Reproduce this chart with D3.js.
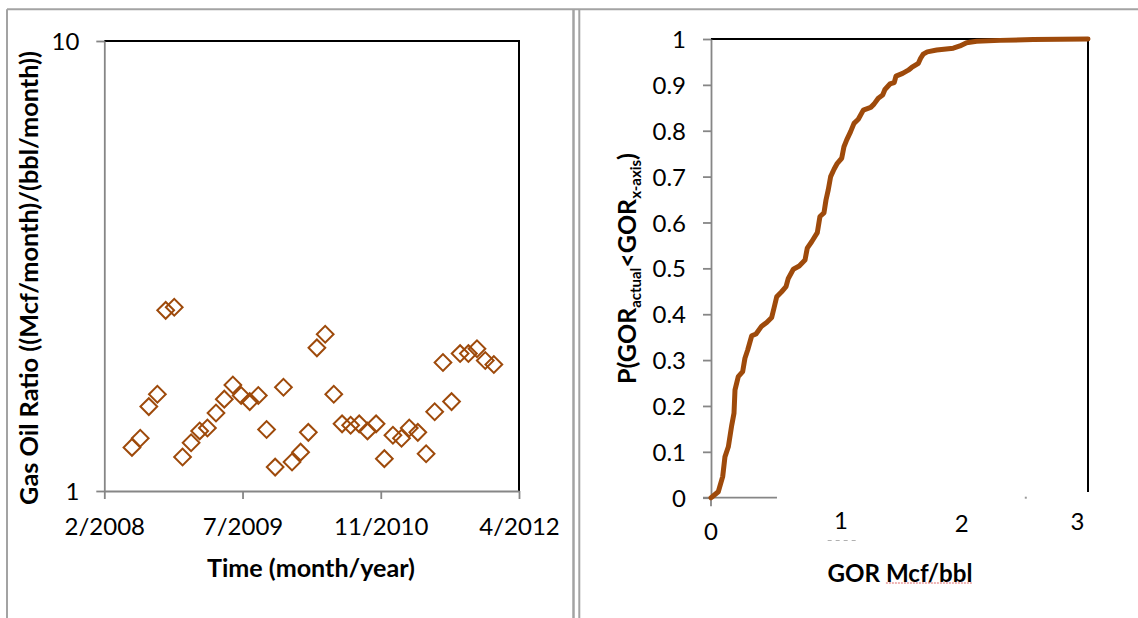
<!DOCTYPE html>
<html>
<head>
<meta charset="utf-8">
<script src="https://cdn.jsdelivr.net/npm/d3@7"></script>
<style>
  html, body { margin: 0; padding: 0; background: #fff; }
  svg { display: block; font-family: Lato, "Open Sans", sans-serif; }
</style>
</head>
<body>
<svg id="chart" width="1138" height="618"></svg>
<script>
// ---- Monthly gas/oil ratio (left panel) ----
const months = [
  "2008-06","2008-07","2008-08","2008-09","2008-10","2008-11","2008-12",
  "2009-01","2009-02","2009-03","2009-04","2009-05","2009-06","2009-07","2009-08","2009-09","2009-10","2009-11","2009-12",
  "2010-01","2010-02","2010-03","2010-04","2010-05","2010-06","2010-07","2010-08","2010-09","2010-10","2010-11","2010-12",
  "2011-01","2011-02","2011-03","2011-04","2011-05","2011-06","2011-07","2011-08","2011-09","2011-10","2011-11","2011-12",
  "2012-01"
];
const gorMonthly = [
  1.25,1.31,1.54,1.64,2.52,2.56,1.19,
  1.28,1.36,1.38,1.49,1.60,1.72,1.63,1.58,1.63,1.37,1.13,1.70,
  1.16,1.22,1.35,2.08,2.23,1.64,1.41,1.40,1.41,1.36,1.41,1.18,
  1.33,1.31,1.38,1.35,1.21,1.50,1.93,1.58,2.02,2.02,2.07,1.95,
  1.91
];
const timeTickDates = ["2008-02-22","2009-07-06","2010-11-18","2012-04-01"];
const timeTickLabels = ["2/2008","7/2009","11/2010","4/2012"];
const gorLogTicks = [1, 10];

// ---- Cumulative probability of GOR (right panel) ----
const cdfGor = [0.0,0.01,0.058,0.093,0.111,0.138,0.165,0.183,0.191,0.217,0.252,0.270,0.292,0.324,0.358,0.403,0.443,0.483,0.501,0.523,
  0.562,0.597,0.615,0.655,0.702,0.748,0.766,0.801,0.846,0.867,0.899,0.915,0.933,0.952,0.979,1.005,1.040,1.058,1.080,1.111,
  1.138,1.172,1.212,1.271,1.297,1.331,1.366,1.384,1.424,1.458,1.472,1.525,1.570,1.597,1.650,1.668,1.689,1.721,1.796,1.928,
  1.981,2.034,2.114,2.299,2.564,3.0];
const cdfProb = [0,0.002,0.013,0.046,0.089,0.111,0.158,0.184,0.235,0.264,0.275,0.304,0.322,0.353,0.357,0.374,0.382,0.393,0.413,0.438,
  0.449,0.460,0.478,0.498,0.505,0.518,0.544,0.558,0.578,0.613,0.621,0.649,0.671,0.700,0.716,0.729,0.740,0.765,0.780,0.798,
  0.816,0.825,0.845,0.851,0.858,0.871,0.878,0.890,0.902,0.905,0.919,0.925,0.932,0.938,0.947,0.958,0.967,0.972,0.976,0.980,
  0.985,0.992,0.995,0.997,0.999,1.0];
const probTicks = [0,0.1,0.2,0.3,0.4,0.5,0.6,0.7,0.8,0.9,1];
const gorTicks = [0,1,2,3];

// ---- Styling ----
const BROWN = "#9e4a0b";
const AXIS_GRAY = "#868686";
const FRAME_GRAY = "#a3a3a3";
const TICK_FONT = 24;

const svg = d3.select("#chart");

// scale a title's font so that its run length comes out at the given width
function fitTitle(sel, width) {
  const base = parseFloat(sel.style("font-size"));
  const len = sel.node().getComputedTextLength();
  sel.style("font-size", (base * width / len).toFixed(2) + "px");
  sel.selectAll("tspan.sub").style("font-size", (base * width / len * 0.6).toFixed(2) + "px");
}

// Page frame: outer border and the double divider between the panels
const frame = svg.append("g").attr("fill", "none").attr("stroke", FRAME_GRAY);
frame.append("line").attr("x1", 7).attr("x2", 1138).attr("y1", 9.3).attr("y2", 9.3).attr("stroke-width", 2);
frame.append("line").attr("x1", 7).attr("x2", 7).attr("y1", 9.3).attr("y2", 618).attr("stroke-width", 2);
frame.append("line").attr("x1", 573.5).attr("x2", 573.5).attr("y1", 9.3).attr("y2", 618).attr("stroke-width", 2.5);
frame.append("line").attr("x1", 579.3).attr("x2", 579.3).attr("y1", 9.3).attr("y2", 618).attr("stroke-width", 2);

function styleAxis(g) {
  g.selectAll(".domain").attr("stroke", AXIS_GRAY).attr("stroke-width", 1.8);
  g.selectAll(".tick line").attr("stroke", AXIS_GRAY).attr("stroke-width", 1.8);
  g.selectAll(".tick text").attr("fill", "#000")
    .style("font-family", "Lato, 'Open Sans', sans-serif").style("font-size", TICK_FONT + "px");
}

// ================= Left panel: GOR over time =================
{
  const L = { left: 104.3, right: 519, top: 41, bottom: 491 };
  const parseMonth = d3.timeParse("%Y-%m");
  const parseDay = d3.timeParse("%Y-%m-%d");
  const tickDates = timeTickDates.map(parseDay);

  const x = d3.scaleTime().domain([tickDates[0], tickDates[tickDates.length - 1]]).range([L.left, L.right]);
  const y = d3.scaleLog().domain([1, 10]).range([L.bottom, L.top]);

  // plot box: black top and right edges
  svg.append("path")
    .attr("d", `M${L.left},${L.top}H${L.right}V${L.bottom}`)
    .attr("fill", "none").attr("stroke", "#000").attr("stroke-width", 2);

  const xAxis = svg.append("g")
    .attr("transform", `translate(0,${L.bottom})`)
    .call(d3.axisBottom(x).tickValues(tickDates)
      .tickFormat((d, i) => timeTickLabels[i]).tickSize(8).tickSizeOuter(0));
  styleAxis(xAxis);
  xAxis.selectAll(".tick text").attr("y", 44).attr("dy", 0);

  const yAxis = svg.append("g")
    .attr("transform", `translate(${L.left},0)`)
    .call(d3.axisLeft(y).tickValues(gorLogTicks).tickFormat(d3.format("d"))
      .tickSize(8).tickPadding(17).tickSizeOuter(0));
  styleAxis(yAxis);
  yAxis.selectAll(".tick text").attr("dy", "0.36em");

  // diamond markers
  const diamond = d3.symbol().type(d3.symbolSquare).size(140);
  svg.append("g").selectAll("path")
    .data(months.map((m, i) => ({ date: parseMonth(m), value: gorMonthly[i] })))
    .join("path")
    .attr("d", diamond)
    .attr("transform", d => `translate(${x(d.date)},${y(d.value)}) rotate(45)`)
    .attr("fill", "none").attr("stroke", BROWN).attr("stroke-width", 2);

  const tx = svg.append("text")
    .attr("x", 311).attr("y", 577)
    .attr("text-anchor", "middle")
    .style("font-size", "24px").style("font-weight", "bold")
    .text("Time (month/year)");
  fitTitle(tx, 208);

  const ty = svg.append("text")
    .attr("transform", "translate(37.5,278) rotate(-90)")
    .attr("text-anchor", "middle")
    .style("font-size", "24px").style("font-weight", "bold")
    .text("Gas Oil Ratio ((Mcf/month)/(bbl/month))");
  fitTitle(ty, 454);
}

// ================= Right panel: cumulative probability =================
{
  const R = { left: 711, right: 1088, top: 39, bottom: 497.7 };
  const x = d3.scaleLinear().domain([0, 3]).range([R.left, R.right]);
  const y = d3.scaleLinear().domain([0, 1]).range([R.bottom, R.top]);

  // black top edge and right edge (right edge stops just above the baseline)
  svg.append("path")
    .attr("d", `M${R.left},${R.top}H${R.right}V${R.bottom - 5.7}`)
    .attr("fill", "none").attr("stroke", "#000").attr("stroke-width", 2);

  const yAxis = svg.append("g")
    .attr("transform", `translate(${R.left},0)`)
    .call(d3.axisLeft(y).tickValues(probTicks).tickFormat(d => String(+d.toFixed(1)))
      .tickSize(8).tickPadding(17).tickSizeOuter(0));
  styleAxis(yAxis);
  yAxis.selectAll(".tick text").attr("dy", "0.36em");

  // short stretch of baseline near the origin, with the zero tick below it
  const base = svg.append("g").attr("stroke", AXIS_GRAY).attr("stroke-width", 1.8);
  base.append("line").attr("x1", x(0) - 8).attr("x2", x(0.525)).attr("y1", y(0)).attr("y2", y(0));
  base.append("line").attr("x1", x(0)).attr("x2", x(0)).attr("y1", y(0)).attr("y2", y(0) + 8.5);
  svg.append("rect").attr("x", x(2.505) - 1).attr("y", y(0) - 1).attr("width", 2).attr("height", 2).attr("fill", "#9a9a9a");

  // x tick labels (hand-placed text boxes around each value)
  const xLabelNudge = [{ dx: 0, y: 540 }, { dx: 4.3, y: 529 }, { dx: -0.5, y: 532 }, { dx: -10.5, y: 530 }];
  svg.append("g").selectAll("text")
    .data(gorTicks)
    .join("text")
    .attr("x", (d, i) => x(d) + xLabelNudge[i].dx)
    .attr("y", (d, i) => xLabelNudge[i].y)
    .attr("text-anchor", "middle")
    .style("font-size", TICK_FONT + "px")
    .text(d => d);
  // faint dashed mark under the "1"
  svg.append("line")
    .attr("x1", x(1) - 9).attr("x2", x(1) + 21).attr("y1", 540.5).attr("y2", 540.5)
    .attr("stroke", "#b0b0b0").attr("stroke-width", 1).attr("stroke-dasharray", "4,4");

  // CDF curve
  const line = d3.line().x(d => x(d[0])).y(d => y(d[1]));
  svg.append("path")
    .datum(d3.zip(cdfGor, cdfProb))
    .attr("d", line)
    .attr("fill", "none").attr("stroke", BROWN).attr("stroke-width", 5)
    .attr("stroke-linejoin", "round").attr("stroke-linecap", "round");

  // x title with spell-check underline under the units
  const xt = svg.append("text")
    .attr("x", 900).attr("y", 581.5)
    .attr("text-anchor", "middle")
    .style("font-size", "24px").style("font-weight", "bold")
    .text("GOR Mcf/bbl");
  fitTitle(xt, 145);
  const tn = xt.node();
  const ux0 = tn.getStartPositionOfChar(4).x;
  const ux1 = ux0 + tn.getSubStringLength(4, 7);
  svg.append("line")
    .attr("x1", ux0).attr("x2", ux1).attr("y1", 583).attr("y2", 583)
    .attr("stroke", "#e06a6a").attr("stroke-width", 1).attr("stroke-dasharray", "2,1");

  // y title with subscripts
  const yt = svg.append("text")
    .attr("transform", "translate(636,268.5) rotate(-90)")
    .attr("text-anchor", "middle")
    .style("font-size", "24px").style("font-weight", "bold");
  yt.append("tspan").text("P(GOR");
  yt.append("tspan").attr("class", "sub").attr("dy", 5).style("font-size", "14.4px").text("actual");
  yt.append("tspan").attr("dy", -5).text("<GOR");
  yt.append("tspan").attr("class", "sub").attr("dy", 5).style("font-size", "14.4px").text("x-axis");
  yt.append("tspan").attr("dy", -5).text(")");
  fitTitle(yt, 231);
}
</script>
</body>
</html>
